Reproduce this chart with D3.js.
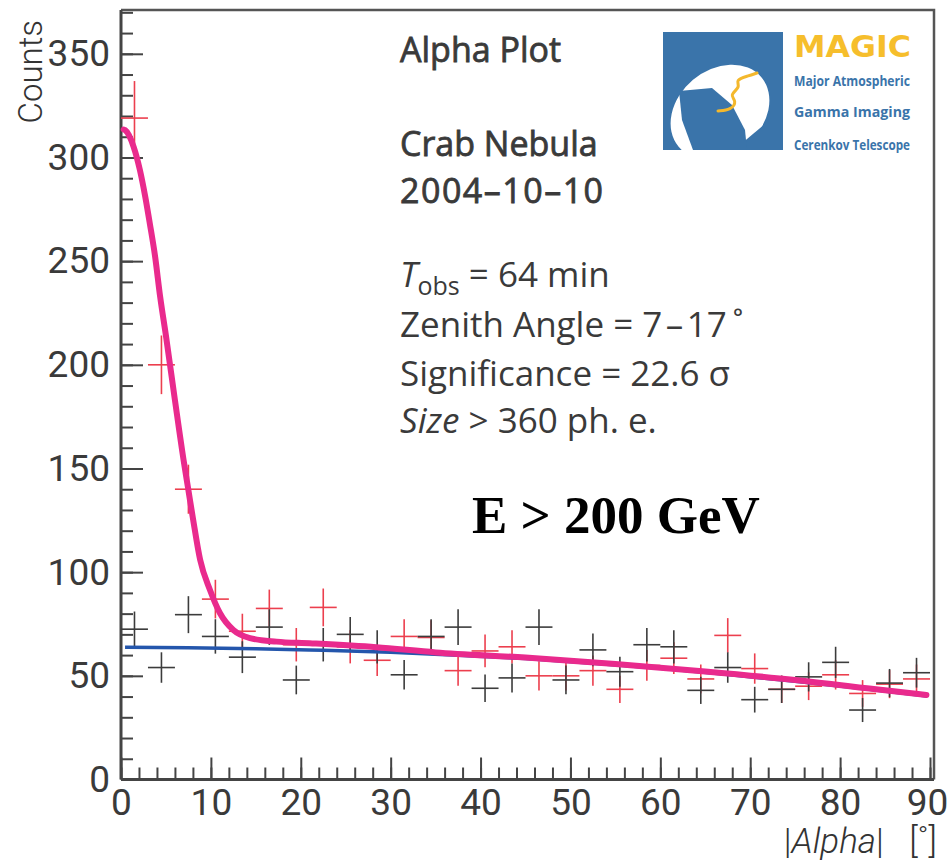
<!DOCTYPE html>
<html>
<head>
<meta charset="utf-8">
<script src="https://cdn.jsdelivr.net/npm/d3@7"></script>
<style>
  body { margin: 0; background: #fff; }
  .tick text { font-family: "Liberation Sans Narrow", Roboto, sans-serif; fill: #3a3a3a; }
</style>
</head>
<body>
<script>
// alpha bin centres (3 degree bins)
var binCenters = [1.5, 4.5, 7.5, 10.5, 13.5, 16.5, 19.5, 22.5, 25.5, 28.5,
                  31.5, 34.5, 37.5, 40.5, 43.5, 46.5, 49.5, 52.5, 55.5, 58.5,
                  61.5, 64.5, 67.5, 70.5, 73.5, 76.5, 79.5, 82.5, 85.5, 88.5];
var binHalf = 1.5;

// ON source counts (red)
var onCounts = [319, 200, 140, 87, 71.5, 82.5, 65, 83, 64, 57.5,
                69, 68.5, 52.5, 62, 64, 50, 50, 52.5, 43.5, 55,
                58.5, 48.5, 69.5, 53.5, 43.5, 45, 50.5, 41.5, 46, 48.5];

// OFF source counts (black)
var offCounts = [72.5, 54, 79.5, 69, 59, 73.5, 48, 65, 70, 64,
                 50.5, 69, 73.5, 44, 49, 73.5, 48, 62.5, 52, 65,
                 64, 43, 54, 38.5, 43.5, 49.5, 56.5, 33.5, 46.5, 51.5];

// fitted ON curve (pink)
var fitX = [0.3, 0.45, 1.4, 2.1, 2.7, 3.2, 3.8, 4.35, 5, 6, 7, 7.5, 8, 8.8, 9.9, 11, 12.5, 14.35, 17.3, 21, 28.4, 35, 45, 55, 65, 75, 85, 89.6];
var fitY = [313.5, 313.2, 305.2, 294, 281, 268.3, 252, 233, 214, 183, 153, 139.5, 126, 106, 91.4, 80.3, 72.1, 68.2, 66.5, 65.7, 63.8, 61.3, 58.8, 55.7, 52.1, 48, 43, 40.8];

// background polynomial (blue)
var bgX = [0.45, 7.5, 15, 22.5, 30, 37.5, 45, 52.5, 60, 67.5, 75, 82.5, 89.6];
var bgY = [63.8, 63.6, 63.1, 62.3, 61.4, 59.9, 58.3, 56.1, 53.6, 50.6, 47.4, 43.9, 40.3];

var yTicks = [0, 50, 100, 150, 200, 250, 300, 350];
var xTicks = [0, 10, 20, 30, 40, 50, 60, 70, 80, 90];

var infoLines = ["Zenith Angle = 7\u200a\u2013\u200a17\u2009\u02da", "Significance = 22.6 \u03c3"];

var width = 948, height = 861;
var plotLeft = 121, plotRight = 930, plotBottom = 779.5, plotTop = 10, frameRight = 934;

var svg = d3.select("body").append("svg")
    .attr("width", width)
    .attr("height", height);

var x = d3.scaleLinear().domain([0, 90]).range([plotLeft, plotRight]);
var y = d3.scaleLinear().domain([0, 350]).range([plotBottom, 53.8]);

//minor ticks
svg.append("g")
    .attr("transform", "translate(" + plotLeft + ",0)")
    .call(d3.axisLeft(y).tickValues(d3.range(0, 371, 10)).tickSize(-12).tickFormat(""))
    .call(function(g){ g.select(".domain").remove(); })
    .selectAll("line").attr("stroke", "#444").attr("stroke-width", 2);

svg.append("g")
    .attr("transform", "translate(0," + plotBottom + ")")
    .call(d3.axisBottom(x).tickValues(d3.range(0, 91, 2)).tickSize(-12).tickFormat(""))
    .call(function(g){ g.select(".domain").remove(); })
    .selectAll("line").attr("stroke", "#444").attr("stroke-width", 2);

//major ticks + labels
var yAxis = svg.append("g")
    .attr("transform", "translate(" + plotLeft + ",0)")
    .call(d3.axisLeft(y).tickValues(yTicks).tickSize(-22).tickPadding(11));
yAxis.select(".domain").remove();
yAxis.selectAll("line").attr("stroke", "#444").attr("stroke-width", 2);
yAxis.selectAll("text").style("font-size", "37px");

var xAxis = svg.append("g")
    .attr("transform", "translate(0," + plotBottom + ")")
    .call(d3.axisBottom(x).tickValues(xTicks).tickSize(-22).tickPadding(9));
xAxis.select(".domain").remove();
xAxis.selectAll("line").attr("stroke", "#444").attr("stroke-width", 2);
xAxis.selectAll("text").style("font-size", "37px")
    .attr("dx", function(d){ return d === 90 ? -3 : 0; });

//frame
svg.append("path")
    .attr("d", "M" + plotLeft + "," + plotTop + "H" + frameRight + "V" + plotBottom)
    .attr("fill", "none").attr("stroke", "#555").attr("stroke-width", 2.5);
svg.append("line").attr("x1", plotLeft).attr("x2", plotLeft).attr("y1", plotTop).attr("y2", plotBottom)
    .attr("stroke", "#444").attr("stroke-width", 3);
svg.append("line").attr("x1", plotLeft).attr("x2", frameRight).attr("y1", plotBottom).attr("y2", plotBottom)
    .attr("stroke", "#444").attr("stroke-width", 3);

//axis titles
svg.append("text")
    .attr("transform", "translate(42,20) rotate(-90)")
    .attr("text-anchor", "end")
    .style("font-family", "Roboto, sans-serif").style("font-weight", 300)
    .style("font-size", "33px").attr("fill", "#333")
    .text("Counts");

var xt = svg.append("text")
    .attr("x", 937).attr("y", 853)
    .attr("text-anchor", "end")
    .style("font-family", "Roboto, sans-serif").style("font-weight", 300)
    .style("font-size", "35px").attr("fill", "#333");
xt.append("tspan").text("|");
xt.append("tspan").style("font-style", "italic").text("Alpha");
xt.append("tspan").text("|\u00a0\u00a0 [\u02da]");

//crosses
function drawCrosses(counts, color, cls){
    var g = svg.append("g").attr("class", cls);
    var pts = binCenters.map(function(c, i){ return {x: c, y: counts[i]}; });
    g.selectAll(".h").data(pts).enter().append("line")
        .attr("x1", function(d){ return x(d.x - binHalf); })
        .attr("x2", function(d){ return x(d.x + binHalf); })
        .attr("y1", function(d){ return y(d.y); })
        .attr("y2", function(d){ return y(d.y); })
        .attr("stroke", color).attr("stroke-width", 1.6);
    g.selectAll(".v").data(pts).enter().append("line")
        .attr("x1", function(d){ return x(d.x); })
        .attr("x2", function(d){ return x(d.x); })
        .attr("y1", function(d){ return y(d.y + Math.sqrt(d.y)); })
        .attr("y2", function(d){ return y(d.y - Math.sqrt(d.y)); })
        .attr("stroke", color).attr("stroke-width", 1.6);
}
drawCrosses(onCounts, "#ec3f4e", "on");
drawCrosses(offCounts, "#3c3c3c", "off");

//curves
var line = d3.line()
    .x(function(d){ return x(d[0]); })
    .y(function(d){ return y(d[1]); })
    .curve(d3.curveMonotoneX);

svg.append("path")
    .datum(bgX.map(function(v, i){ return [v, bgY[i]]; }))
    .attr("d", line)
    .attr("fill", "none").attr("stroke", "#2456ac").attr("stroke-width", 3.5);

svg.append("path")
    .datum(fitX.map(function(v, i){ return [v, fitY[i]]; }))
    .attr("d", line)
    .attr("fill", "none").attr("stroke", "#e92a8d").attr("stroke-width", 6)
    .attr("stroke-linecap", "round");

//text block
var font = "'Open Sans', 'Noto Sans', sans-serif";
function label(tx, ty, str, size, weight){
    return svg.append("text").attr("x", tx).attr("y", ty)
        .style("font-family", font).style("font-size", size + "px")
        .style("font-weight", weight).attr("fill", "#3a3a3a").text(str);
}
label(400, 62, "Alpha Plot", 34, 400).attr("stroke", "#3a3a3a").attr("stroke-width", 0.8);
label(400, 156, "Crab Nebula", 34, 400).attr("stroke", "#3a3a3a").attr("stroke-width", 0.8);
label(400, 203, "2004\u201310\u201310", 34, 400).attr("stroke", "#3a3a3a").attr("stroke-width", 0.8)
    .attr("letter-spacing", 1.5);

var t1 = svg.append("text").attr("x", 400).attr("y", 287)
    .style("font-family", font).style("font-size", "35px").attr("fill", "#3a3a3a");
t1.append("tspan").style("font-style", "italic").text("T");
t1.append("tspan").attr("dy", 8).style("font-size", "25px").text("obs");
t1.append("tspan").attr("dy", -8).text(" = 64 min");

infoLines.forEach(function(s, i){
    label(400, 337 + i * 49, s, 35, 400);
});
var t4 = svg.append("text").attr("x", 400).attr("y", 433)
    .style("font-family", font).style("font-size", "35px").attr("fill", "#3a3a3a");
t4.append("tspan").style("font-style", "italic").text("Size");
t4.append("tspan").text(" > 360 ph. e.");

svg.append("text").attr("x", 472).attr("y", 533)
    .style("font-family", "'Liberation Serif', serif").style("font-weight", "bold")
    .style("font-size", "53px").attr("fill", "#000")
    .text("E > 200 GeV");

//MAGIC logo
var logo = svg.append("g");
logo.append("clipPath").attr("id", "sq")
    .append("rect").attr("x", 663).attr("y", 32).attr("width", 120).attr("height", 118);
logo.append("rect").attr("x", 663).attr("y", 32).attr("width", 120).attr("height", 118)
    .attr("fill", "#3a74aa");
logo.append("ellipse")
    .attr("cx", 720).attr("cy", 112).attr("rx", 54).attr("ry", 42)
    .attr("transform", "rotate(-40,720,112)")
    .attr("clip-path", "url(#sq)")
    .attr("fill", "#fff");
logo.append("path")
    .attr("d", d3.line()([[679, 91], [712, 88], [732, 105], [745, 130], [747, 150], [693, 150], [682, 120]]) + "Z")
    .attr("fill", "#3a74aa");
logo.append("path")
    .attr("d", d3.line().curve(d3.curveBasis)([[718, 111], [731, 110], [737, 101], [729, 95], [741, 87], [735, 80], [748, 76], [757, 73]]))
    .attr("fill", "none").attr("stroke", "#f4b82c").attr("stroke-width", 3).attr("stroke-linecap", "round");

logo.append("text").attr("x", 794).attr("y", 57)
    .attr("textLength", 117).attr("lengthAdjust", "spacingAndGlyphs")
    .style("font-family", "'DejaVu Sans', sans-serif").style("font-weight", "bold")
    .style("font-size", "31px").attr("fill", "#f6be2c").text("MAGIC");
[["Major Atmospheric", 86], ["Gamma  Imaging", 117], ["Cerenkov Telescope", 150]].forEach(function(d){
    logo.append("text").attr("x", 794).attr("y", d[1])
        .attr("textLength", 116).attr("lengthAdjust", "spacingAndGlyphs")
        .style("font-family", "'Open Sans', sans-serif").style("font-weight", "bold")
        .style("font-size", "14px").attr("fill", "#3a74aa").text(d[0]);
});
</script>
</body>
</html>
